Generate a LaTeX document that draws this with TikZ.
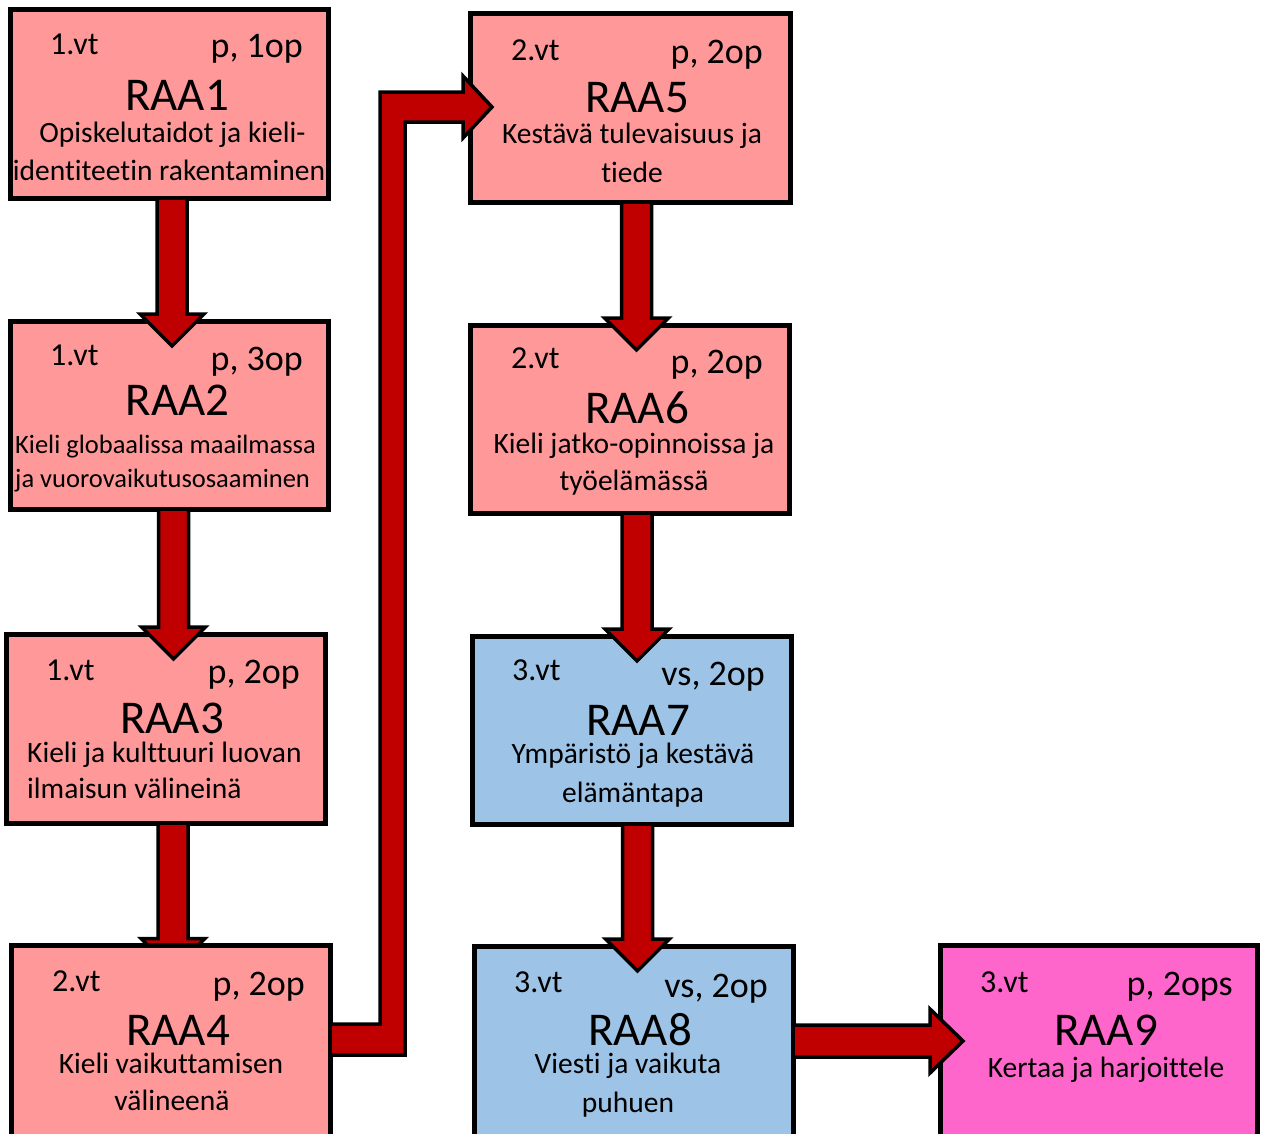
\documentclass[tikz,border=0pt]{standalone}
\usepackage{fontspec}
\setmainfont{Carlito}[Ligatures={NoCommon}]
\usetikzlibrary{calc}
\definecolor{pinkbox}{HTML}{FF9999}
\definecolor{bluebox}{HTML}{9DC3E6}
\definecolor{magbox}{HTML}{FF66CC}
\definecolor{arrowred}{HTML}{C00000}
\tikzset{
  box/.style={draw=black, line width=5pt, anchor=north west, inner sep=0pt, outer sep=0pt},
  blockarrow/.style={fill=arrowred, draw=black, line width=3.5pt, line join=miter},
  vtlab/.style={anchor=base west, inner sep=0pt, font=\fontsize{32}{36}\selectfont},
  oplab/.style={anchor=base east, inner sep=0pt, font=\fontsize{36}{40}\selectfont},
  ttl/.style={anchor=base, inner sep=0pt, font=\fontsize{47}{52}\selectfont},
  dsc/.style={anchor=base, inner sep=0pt, font=\fontsize{29.5}{33}\selectfont},
  dscl/.style={anchor=base west, inner sep=0pt, font=\fontsize{29.5}{33}\selectfont},
}
\newcommand\blockdown[3]{%
  \coordinate (bs) at ([xshift=#3pt]#1.south);
  \coordinate (bt) at (bs |- #2.north);
  \draw[blockarrow] ($(bs)+(-15,0)$) -- ($(bt)+(-15,-7)$) -- ($(bt)+(-32,-7)$) -- ($(bt)+(0,25)$) -- ($(bt)+(32,-7)$) -- ($(bt)+(15,-7)$) -- ($(bs)+(15,0)$) -- cycle;}
\begin{document}
\begin{tikzpicture}[x=1pt,y=-1pt]
\useasboundingbox (0,0) rectangle (1261,1133);
\clip (0,0) rectangle (1261,1133);
% boxes (raa4 placed after arrow 3->4 so that it covers the arrow head)
\node[box, fill=pinkbox, minimum width=318pt, minimum height=189pt] (raa1) at (10,9) {};
\node[box, fill=pinkbox, minimum width=318pt, minimum height=188pt] (raa2) at (10,321) {};
\node[box, fill=pinkbox, minimum width=319pt, minimum height=189pt] (raa3) at (6,634) {};
\node[box, fill=pinkbox, minimum width=320pt, minimum height=189pt] (raa5) at (470,13) {};
\node[box, fill=pinkbox, minimum width=319pt, minimum height=188pt] (raa6) at (470,325) {};
\node[box, fill=bluebox, minimum width=319pt, minimum height=188pt] (raa7) at (472,636) {};
\node[box, fill=bluebox, minimum width=319pt, minimum height=200pt] (raa8) at (474,946) {};
\node[box, fill=magbox, minimum width=317pt, minimum height=200pt] (raa9) at (940,945.5) {};
% arrow 3 -> 4 (under raa4)
\coordinate (raa4top) at (170.5,945.5);
\coordinate (bs) at ([xshift=7.5pt]raa3.south);
\coordinate (bt) at (bs |- raa4top);
\draw[blockarrow] ($(bs)+(-15,0)$) -- ($(bt)+(-15,-7)$) -- ($(bt)+(-32,-7)$) -- ($(bt)+(0,25)$) -- ($(bt)+(32,-7)$) -- ($(bt)+(15,-7)$) -- ($(bs)+(15,0)$) -- cycle;
\node[box, fill=pinkbox, minimum width=319pt, minimum height=200pt] (raa4) at (11,945.5) {};
% down arrows
\blockdown{raa1}{raa2}{3}
\blockdown{raa2}{raa3}{4.5}
\blockdown{raa5}{raa6}{6.5}
\blockdown{raa6}{raa7}{7.5}
\blockdown{raa7}{raa8}{6}
% elbow arrow raa4 -> raa5
\coordinate (e1) at ($(raa4.north east)+(0,78.5)$);
\coordinate (e2) at ($(raa4.north east)+(0,109.5)$);
\coordinate (ht) at ($(raa5.north west)+(-7,79)$);
\coordinate (hb) at ($(raa5.north west)+(-7,109)$);
\coordinate (tip1) at ($(raa5.north west)+(22,94)$);
\coordinate (vl) at (380,0);
\coordinate (vr) at (405,0);
\draw[blockarrow] (e2) -- (vr |- e2) -- (vr |- hb) -- (hb) -- ($(hb)+(0,16)$) -- (tip1) -- ($(ht)+(0,-16)$) -- (ht) -- (vl |- ht) -- (vl |- e1) -- (e1) -- cycle;
% arrow raa8 -> raa9
\coordinate (a1) at ($(raa8.north east)+(0,79)$);
\coordinate (a2) at ($(raa8.north east)+(0,111)$);
\coordinate (tip2) at ($(raa9.north west)+(23,95.5)$);
\coordinate (sh) at ($(raa9.north west)+(-10,0)$);
\draw[blockarrow] (a1) -- (sh |- a1) -- ($(sh |- tip2)+(0,-32)$) -- (tip2) -- ($(sh |- tip2)+(0,32)$) -- (sh |- a2) -- (a2) -- cycle;
% texts RAA1
\node[vtlab] (t1a) at ([shift={(40,45)}]raa1.north west) {1.vt};
\node[oplab] (t1b) at ([shift={(-25,48)}]raa1.north east) {p, 1op};
\node[ttl] (t1c) at ([shift={(8,101)}]raa1.north) {RAA1};
\node[dsc] (t1d) at ([shift={(3.5,133)}]raa1.north) {Opiskelutaidot ja kieli-};
\node[dsc] (t1e) at ([shift={(0,171)}]raa1.north) {identiteetin rakentaminen};
% RAA2
\node[vtlab] (t2a) at ([shift={(40,44)}]raa2.north west) {1.vt};
\node[oplab] (t2b) at ([shift={(-25,49)}]raa2.north east) {p, 3op};
\node[ttl] (t2c) at ([shift={(8.5,94)}]raa2.north) {RAA2};
\node[dscl, font=\fontsize{26.5}{30}\selectfont] (t2d) at ([shift={(5,132)}]raa2.north west) {Kieli globaalissa maailmassa};
\node[dscl, font=\fontsize{26.5}{30}\selectfont] (t2e) at ([shift={(5,166)}]raa2.north west) {ja vuorovaikutusosaaminen};
% RAA3
\node[vtlab] (t3a) at ([shift={(40,46)}]raa3.north west) {1.vt};
\node[oplab] (t3b) at ([shift={(-25,49)}]raa3.north east) {p, 2op};
\node[ttl] (t3c) at ([shift={(6.5,99)}]raa3.north) {RAA3};
\node[dscl] (t3d) at ([shift={(21,128)}]raa3.north west) {Kieli ja kulttuuri luovan};
\node[dscl] (t3e) at ([shift={(21,164)}]raa3.north west) {ilmaisun välineinä};
% RAA4
\node[vtlab] (t4a) at ([shift={(41,46)}]raa4.north west) {2.vt};
\node[oplab] (t4b) at ([shift={(-25,49.5)}]raa4.north east) {p, 2op};
\node[ttl] (t4c) at ([shift={(7.5,100)}]raa4.north) {RAA4};
\node[dsc] (t4d) at ([shift={(0.5,128)}]raa4.north) {Kieli vaikuttamisen};
\node[dsc] (t4e) at ([shift={(1.5,165)}]raa4.north) {välineenä};
% RAA5
\node[vtlab] (t5a) at ([shift={(41,47)}]raa5.north west) {2.vt};
\node[oplab] (t5b) at ([shift={(-27,50)}]raa5.north east) {p, 2op};
\node[ttl] (t5c) at ([shift={(7,99)}]raa5.north) {RAA5};
\node[dsc] (t5d) at ([shift={(2,130)}]raa5.north) {Kestävä tulevaisuus ja};
\node[dsc] (t5e) at ([shift={(2,169)}]raa5.north) {tiede};
% RAA6
\node[vtlab] (t6a) at ([shift={(41,43)}]raa6.north west) {2.vt};
\node[oplab] (t6b) at ([shift={(-26,48)}]raa6.north east) {p, 2op};
\node[ttl] (t6c) at ([shift={(7.5,98)}]raa6.north) {RAA6};
\node[dsc] (t6d) at ([shift={(4.5,128)}]raa6.north) {Kieli jatko-opinnoissa ja};
\node[dsc] (t6e) at ([shift={(4.5,165)}]raa6.north) {työelämässä};
% RAA7
\node[vtlab] (t7a) at ([shift={(40,44)}]raa7.north west) {3.vt};
\node[oplab] (t7b) at ([shift={(-26,49)}]raa7.north east) {vs, 2op};
\node[ttl] (t7c) at ([shift={(6.5,99)}]raa7.north) {RAA7};
\node[dsc] (t7d) at ([shift={(1.5,127)}]raa7.north) {Ympäristö ja kestävä};
\node[dsc] (t7e) at ([shift={(1.5,166)}]raa7.north) {elämäntapa};
% RAA8
\node[vtlab] (t8a) at ([shift={(40,46)}]raa8.north west) {3.vt};
\node[oplab] (t8b) at ([shift={(-25,51)}]raa8.north east) {vs, 2op};
\node[ttl] (t8c) at ([shift={(6.5,99)}]raa8.north) {RAA8};
\node[dsc] (t8d) at ([shift={(-5.5,127)}]raa8.north) {Viesti ja vaikuta};
\node[dsc] (t8e) at ([shift={(-5.5,166)}]raa8.north) {puhuen};
% RAA9
\node[vtlab] (t9a) at ([shift={(40,46.5)}]raa9.north west) {3.vt};
\node[oplab] (t9b) at ([shift={(-24,49.5)}]raa9.north east) {p, 2ops};
\node[ttl] (t9c) at ([shift={(7.5,99.5)}]raa9.north) {RAA9};
\node[dsc] (t9d) at ([shift={(7.5,131.5)}]raa9.north) {Kertaa ja harjoittele};
\end{tikzpicture}
\end{document}
